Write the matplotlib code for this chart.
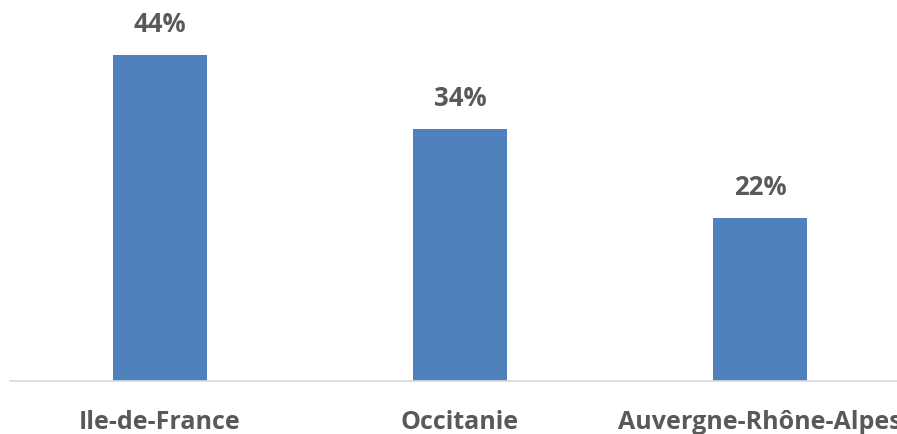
import matplotlib
matplotlib.use('Agg')
import matplotlib.pyplot as plt

regions = ['Ile-de-France', 'Occitanie', 'Auvergne-Rhône-Alpes']
shares = [44, 34, 22]
labels = ['44%', '34%', '22%']

plt.rcParams['font.family'] = ['Open Sans', 'DejaVu Sans']

fig = plt.figure(figsize=(8.97, 4.35), dpi=100)
ax = fig.add_axes([10 / 897, 53 / 435, 900 / 897, 382 / 435])

x = range(len(regions))
bars = ax.bar(x, shares, width=0.315, color='#4F81BD', zorder=2)
for b, lab in zip(bars, labels):
    ax.annotate(lab, (b.get_x() + b.get_width() / 2, b.get_height()),
                xytext=(0, 13), textcoords='offset points', ha='center',
                va='bottom', fontsize=18.5, fontweight='bold', color='#595959')

ax.set_xlim(-0.5, 2.5)
ax.set_ylim(0, 51.5)
ax.set_xticks(list(x))
ax.set_xticklabels(regions, fontsize=18, fontweight='bold', color='#595959')
ax.tick_params(axis='x', length=0, pad=20)
ax.set_yticks([])
for s in ['top', 'right', 'left']:
    ax.spines[s].set_visible(False)
ax.spines['bottom'].set_color('#D9D9D9')
ax.spines['bottom'].set_linewidth(1.2)

fig.savefig('out.png', dpi=100)
